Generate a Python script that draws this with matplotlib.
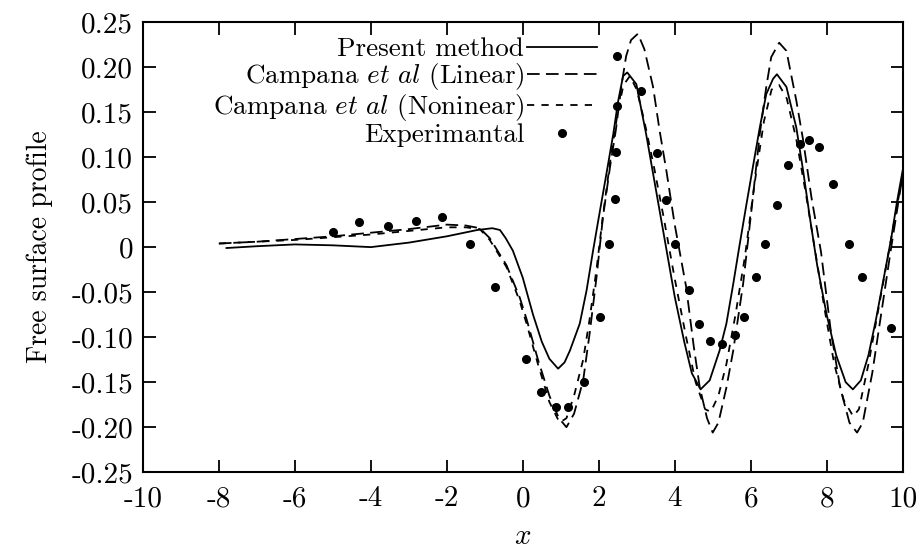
import matplotlib
matplotlib.use("Agg")
import matplotlib.pyplot as plt

plt.rcParams['font.family'] = 'serif'
plt.rcParams['font.serif'] = ['cmr10', 'DejaVu Serif']
plt.rcParams['mathtext.fontset'] = 'cm'
plt.rcParams['axes.unicode_minus'] = False

# present method (solid)
x_present = [-7.8, -7, -6, -5, -4, -3, -2, -1.2, -0.8, -0.6, -0.45, -0.26, 0.0, 0.27, 0.5, 0.7, 0.93,
             1.1, 1.24, 1.5, 1.68, 1.85, 2.03, 2.2, 2.38, 2.51, 2.64, 2.75, 2.99, 3.25, 3.5, 3.75,
             4.0, 4.25, 4.45, 4.68, 4.92, 5.18, 5.36, 5.54, 5.71, 5.89, 6.07, 6.24, 6.41, 6.59, 6.69,
             6.94, 7.2, 7.38, 7.55, 7.75, 8.0, 8.25, 8.5, 8.69, 8.9, 9.1, 9.3, 9.5, 9.7, 9.85, 10.0]
y_present = [-0.001, 0.001, 0.003, 0.002, 0.0, 0.005, 0.012, 0.019, 0.021, 0.019, 0.01, -0.004, -0.034, -0.075, -0.105, -0.124, -0.135,
             -0.128, -0.115, -0.085, -0.048, -0.004, 0.040, 0.081, 0.125, 0.162, 0.19, 0.194, 0.181, 0.125, 0.065, 0.005,
             -0.055, -0.105, -0.14, -0.158, -0.148, -0.115, -0.085, -0.041, 0.003, 0.048, 0.092, 0.133, 0.170, 0.187, 0.192,
             0.178, 0.133, 0.085, 0.035, -0.02, -0.075, -0.12, -0.15, -0.158, -0.148, -0.12, -0.08, -0.035, 0.01, 0.05, 0.085]

# Campana et al, linear (long dashes)
x_linear = [-8, -7, -6, -5, -4, -3, -2, -1.5, -1.13, -0.87, -0.43, -0.08, 0.1, 0.4, 0.7, 0.95, 1.15, 1.35,
            1.59, 1.76, 1.94, 2.11, 2.3, 2.45, 2.6, 2.72, 2.85, 3.03, 3.2, 3.43, 3.6, 3.78, 4.0, 4.3, 4.5,
            4.66, 4.85, 5.0, 5.15, 5.36, 5.54, 5.8, 6.02, 6.24, 6.41, 6.54, 6.75, 6.94, 7.2, 7.38, 7.6,
            7.85, 8.1, 8.35, 8.6, 8.8, 8.95, 9.2, 9.45, 9.7, 10.0]
y_linear = [0.004, 0.006, 0.009, 0.012, 0.016, 0.02, 0.025, 0.024, 0.021, 0.01, -0.02, -0.056, -0.08, -0.125, -0.165, -0.19, -0.2, -0.185,
            -0.148, -0.096, -0.034, 0.033, 0.09, 0.13, 0.18, 0.212, 0.23, 0.237, 0.22, 0.178, 0.13, 0.085, 0.025, -0.044, -0.11,
            -0.156, -0.19, -0.206, -0.195, -0.156, -0.115, -0.041, 0.041, 0.126, 0.178, 0.211, 0.227, 0.218, 0.163, 0.119, 0.055,
            -0.005, -0.09, -0.155, -0.195, -0.206, -0.195, -0.14, -0.07, 0.0, 0.08]

# Campana et al, nonlinear (short dashes)
x_nonlin = [-8, -6, -4, -3, -2, -1.5, -1.13, -0.87, -0.43, -0.08, 0.1, 0.4, 0.7, 0.97, 1.15, 1.35, 1.59,
            1.76, 1.94, 2.11, 2.3, 2.5, 2.65, 2.82, 3.0, 3.2, 3.45, 3.7, 4.0, 4.3, 4.55, 4.8, 4.95, 5.15,
            5.36, 5.6, 5.85, 6.1, 6.35, 6.55, 6.75, 6.95, 7.2, 7.45, 7.7, 7.95, 8.2, 8.45, 8.7, 8.85, 9.1,
            9.4, 9.7, 10.0]
y_nonlin = [0.004, 0.008, 0.014, 0.018, 0.022, 0.022, 0.02, 0.008, -0.022, -0.06, -0.085, -0.13, -0.172, -0.195, -0.19, -0.165, -0.125,
            -0.08, -0.025, 0.035, 0.095, 0.15, 0.18, 0.19, 0.175, 0.14, 0.09, 0.035, -0.035, -0.1, -0.15, -0.18, -0.183, -0.165,
            -0.13, -0.075, -0.01, 0.07, 0.14, 0.175, 0.18, 0.165, 0.12, 0.06, -0.005, -0.07, -0.13, -0.17, -0.188, -0.18, -0.13,
            -0.06, 0.01, 0.08]

# experimental points
x_exp = [-5.0, -4.31, -3.54, -2.82, -2.12, -1.38, -0.74, 0.08, 0.49, 0.87, 1.19, 1.61, 2.03, 2.27, 2.42, 2.45,
         2.49, 2.49, 3.1, 3.54, 3.76, 4.02, 4.38, 4.64, 4.94, 5.25, 5.59, 5.82, 6.15, 6.37, 6.70, 6.98,
         7.31, 7.54, 7.8, 8.17, 8.58, 8.94, 9.7]
y_exp = [0.017, 0.028, 0.024, 0.029, 0.033, 0.003, -0.044, -0.124, -0.161, -0.178, -0.178, -0.15, -0.078, 0.003, 0.054, 0.106,
         0.157, 0.212, 0.173, 0.104, 0.052, 0.003, -0.048, -0.085, -0.104, -0.108, -0.098, -0.078, -0.033, 0.004, 0.047, 0.091,
         0.114, 0.119, 0.111, 0.070, 0.003, -0.033, -0.09]

xticks = [-10, -8, -6, -4, -2, 0, 2, 4, 6, 8, 10]
xtick_labels = ['-10', '-8', '-6', '-4', '-2', '0', '2', '4', '6', '8', '10']
yticks = [0.25, 0.20, 0.15, 0.10, 0.05, 0, -0.05, -0.10, -0.15, -0.20, -0.25]
ytick_labels = ['0.25', '0.20', '0.15', '0.10', '0.05', '0', '-0.05', '-0.10', '-0.15', '-0.20', '-0.25']

fig = plt.figure(figsize=(9.22, 5.51), dpi=100)
ax = fig.add_axes([0.155, 0.143, 0.824, 0.817])

ax.plot(x_present, y_present, color='black', lw=1.3, label='Present method')
ax.plot(x_linear, y_linear, color='black', lw=1.3, dashes=(7, 3.5), label=r'Campana $et\ al$ (Linear)')
ax.plot(x_nonlin, y_nonlin, color='black', lw=1.3, dashes=(4, 4), label=r'Campana $et\ al$ (Noninear)')
ax.plot(x_exp, y_exp, 'o', color='black', ms=5.5, label='Experimantal')

ax.set_xlim(-10, 10)
ax.set_ylim(-0.25, 0.25)
ax.set_xticks(xticks)
ax.set_xticklabels(xtick_labels)
ax.set_yticks(yticks)
ax.set_yticklabels(ytick_labels)
ax.tick_params(axis='y', pad=7)
ax.tick_params(axis='x', pad=10)
ax.tick_params(direction='in', length=9, width=1.3, top=True, right=True, labelsize=21)
for s in ax.spines.values():
    s.set_linewidth(1.5)

ax.set_xlabel('$x$', fontsize=21, labelpad=8)
ax.set_ylabel('Free surface profile', fontsize=20, labelpad=13)

ax.legend(loc='upper right', bbox_to_anchor=(0.648, 0.932), bbox_transform=fig.transFigure,
          frameon=False, markerfirst=False, fontsize=19.5, handlelength=2.6, handletextpad=0.1,
          labelspacing=0.0, borderpad=0, borderaxespad=0)

fig.savefig('out.png', dpi=100)
